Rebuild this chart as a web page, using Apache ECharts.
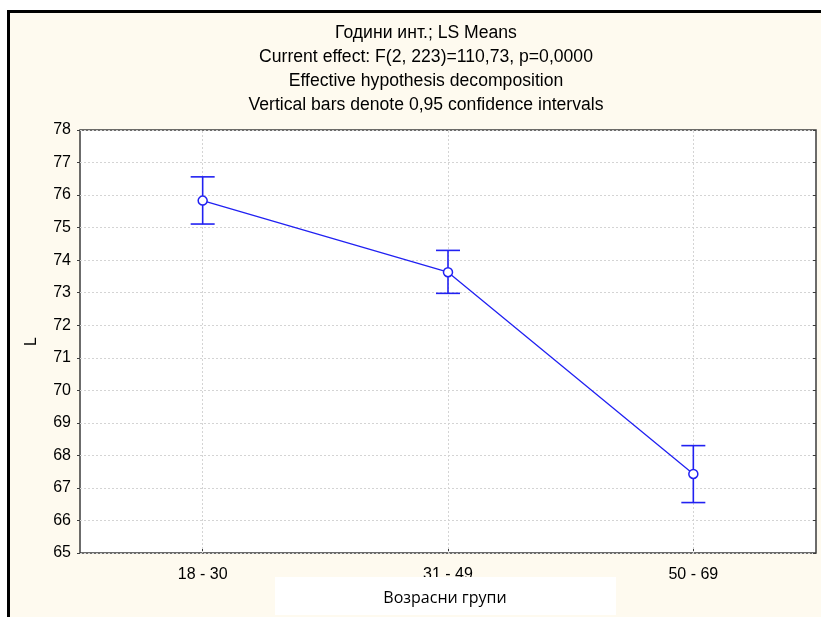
<!DOCTYPE html>
<html>
<head>
<meta charset="utf-8">
<script src="https://cdn.jsdelivr.net/npm/echarts@6/dist/echarts.min.js"></script>
<style>
html,body{margin:0;padding:0;background:#ffffff;}
#wrap{position:relative;width:821px;height:617px;overflow:hidden;}
#frame{position:absolute;left:7px;top:10px;width:830px;height:630px;background:#fefaef;border-left:3px solid #000;border-top:3px solid #000;}
#main{position:absolute;left:0;top:0;width:821px;height:617px;}
</style>
</head>
<body>
<div id="wrap"><div id="frame"></div><div id="main"></div></div>
<script>
const categories = ['18 - 30', '31 - 49', '50 - 69'];
const means = [75.83, 73.63, 67.43];
const upper = [76.56, 74.30, 68.30];
const lower = [75.11, 72.98, 66.55];
const titleLines = [
  'Години инт.; LS Means',
  'Current effect: F(2, 223)=110,73, p=0,0000',
  'Effective hypothesis decomposition',
  'Vertical bars denote 0,95 confidence intervals'
];
const yName = 'L';
const xName = 'Возрасни групи';

const blue = '#2121f2';
const chart = echarts.init(document.getElementById('main'), null, {renderer: 'canvas'});
chart.setOption({
  backgroundColor: 'transparent',
  animation: false,
  title: {
    text: titleLines.join('\n'),
    left: 421, textAlign: 'center', top: 16,
    textStyle: {fontFamily: '"Liberation Sans", Arial', fontSize: 17.6, fontWeight: 'normal', color: '#000', lineHeight: 24}
  },
  grid: {left: 80, top: 130, right: 5, bottom: 64, show: true, backgroundColor: '#ffffff', borderColor: '#3c3c3c', borderWidth: 1.5},
  xAxis: {
    type: 'category', data: categories, boundaryGap: true,
    axisLine: {show: false},
    axisTick: {show: true, inside: true, alignWithLabel: true, length: 4, lineStyle: {color: '#3c3c3c', width: 1}},
    axisLabel: {fontFamily: '"Liberation Sans", Arial', fontSize: 16, color: '#000', margin: 14},
    splitLine: {show: false}
  },
  yAxis: [{
    type: 'value', min: 65, max: 78, interval: 1,
    name: yName, nameLocation: 'middle', nameGap: 40, nameRotate: 90,
    nameTextStyle: {fontFamily: '"Liberation Sans", Arial', fontSize: 16, color: '#000'},
    axisLine: {show: false},
    axisTick: {show: true, inside: false, length: 3, lineStyle: {color: '#3c3c3c'}},
    axisLabel: {fontFamily: '"Liberation Sans", Arial', fontSize: 16, color: '#000', margin: 9},
    splitLine: {show: true, lineStyle: {color: '#d4d4d4', type: [2, 2], width: 1}}
  }, {
    type: 'value', min: 65, max: 78, interval: 1, position: 'right',
    axisLine: {show: false},
    axisTick: {show: true, inside: true, length: 3, lineStyle: {color: '#3c3c3c'}},
    axisLabel: {show: false},
    splitLine: {show: false}
  }],
  series: [{
    type: 'line', data: means, yAxisIndex: 0,
    symbol: 'circle', symbolSize: 9,
    lineStyle: {color: blue, width: 1.3},
    itemStyle: {color: '#ffffff', borderColor: blue, borderWidth: 1.5},
    z: 5,
    markLine: {
      silent: true, symbol: 'none', label: {show: false},
      lineStyle: {color: '#d4d4d4', type: [2, 2], width: 1},
      data: categories.map(c => ({xAxis: c})),
      z: 1
    }
  }, {
    type: 'custom', yAxisIndex: 0, z: 4,
    data: categories.map((c, i) => [i, lower[i], upper[i]]),
    renderItem: function (params, api) {
      const lo = api.coord([api.value(0), api.value(1)]);
      const hi = api.coord([api.value(0), api.value(2)]);
      const hw = 12;
      const st = {stroke: blue, lineWidth: 1.6};
      return {type: 'group', children: [
        {type: 'line', shape: {x1: hi[0], y1: hi[1], x2: lo[0], y2: lo[1]}, style: st},
        {type: 'line', shape: {x1: hi[0] - hw, y1: hi[1], x2: hi[0] + hw, y2: hi[1]}, style: st},
        {type: 'line', shape: {x1: lo[0] - hw, y1: lo[1], x2: lo[0] + hw, y2: lo[1]}, style: st}
      ]};
    }
  }],
  graphic: [{
    type: 'group', z: 100,
    children: [
      {type: 'rect', shape: {x: 275, y: 577, width: 341, height: 38}, style: {fill: '#ffffff'}, z: 100},
      {type: 'text', x: 445, y: 598, style: {text: xName, fontFamily: '"Open Sans", "Noto Sans", sans-serif', fontSize: 16, fill: '#000', align: 'center', verticalAlign: 'middle'}, z: 101}
    ]
  }]
});
</script>
</body>
</html>
